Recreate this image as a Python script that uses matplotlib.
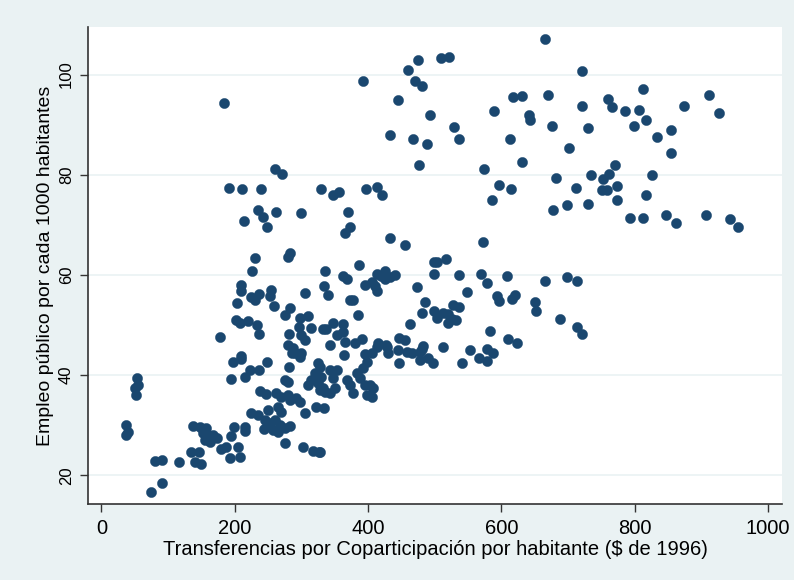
import matplotlib
matplotlib.use("Agg")
import matplotlib.pyplot as plt

# Transferencias por coparticipación por habitante ($ de 1996)
transfer = [
    183.6, 191, 211, 240, 260, 271, 330,
    666, 474.6, 459.6, 509.6, 521, 393, 471, 481, 445.5, 493, 588.6, 618, 631, 670.5,
    642, 643, 675.6, 528.6, 536.5, 433.5, 468, 489, 613.5, 477, 574, 631.5, 682.5,
    596.5, 614, 356.5, 348, 396.6, 414, 421,
    721, 812.5, 912, 760, 765.6, 721, 786, 806.5, 874.5, 926.5, 730.5, 798.5, 817.5,
    834, 854.5, 854, 701.5, 770, 761, 753, 735, 712.5, 750.6, 758, 774, 826.5, 817.5,
    774, 678, 699, 729.6, 793, 812.5, 847, 861.6, 907.5, 943, 955.5, 698, 714, 687.6,
    713, 721,
    586.5, 370.5, 373, 366, 433.5, 456, 572, 499.5, 503, 516.6, 386, 335.5, 363, 368,
    414, 426, 419.5, 426, 441, 433, 396, 405.6, 410.5, 414, 499.5, 536.5, 570, 609,
    579, 665, 334.5, 339.6, 473.5, 548, 594, 596.5, 615.5, 620.5, 650.5, 652, 373, 378,
    486, 528, 537, 481.5, 385.5, 499.5, 503, 513, 520.5, 525.6, 531.6, 520.5, 462.6,
    333, 348, 354, 363, 363, 365.5, 343.5, 337, 380.5, 391.5, 414.5, 426.6, 446.5, 456,
    483, 512.5, 582.5, 609.5, 623, 553.5, 578, 588,
    364.5, 395.5, 405.6, 413, 428, 445.5, 458, 465.6, 478, 480.5, 498, 490.5, 478, 447,
    430.5, 541.5, 567, 578, 327.8, 343, 353, 328, 348, 333, 343, 350.5, 368, 373, 378,
    388, 393, 398, 395.5, 403, 398, 408, 405.6, 383, 334, 328,
    235, 242.5, 261.6, 300, 214.5, 248, 231, 280, 283.5, 226, 209.5, 209.5, 225, 230,
    236, 254, 252.6, 305.5, 204, 258.6, 283, 275, 202.5, 207.6, 220, 234, 236, 178.5,
    298, 310, 296, 314, 300, 305, 281.5, 280, 287.5, 290, 300, 209,
    54, 50, 52.5, 55, 37.5, 40, 37.5, 197.5, 210, 222.6, 215, 236, 195, 249, 281.5,
    286, 298.5, 275, 280, 237.6, 247.5, 262.5, 270, 280, 282.6, 292.5, 297.6, 325, 320,
    315, 310, 330, 325, 327.5, 335, 322.5, 306, 225, 235, 250, 265, 270, 245, 252.6,
    260, 268, 244, 257.5, 265, 275, 282.6, 276, 302.5, 317.5, 326, 215, 215, 198.6,
    194, 137.5, 147.6, 157.5, 152.6, 160, 167.6, 162.6, 174, 155, 180, 187.5, 205,
    192.6, 207.6, 135, 146.5, 140, 150, 116, 80, 91, 91, 74,
]

# Empleo público por cada 1000 habitantes
empleo = [
    94.3, 77.4, 77.2, 77.2, 81.1, 80.1, 77.1,
    107.1, 103.0, 101.0, 103.3, 103.5, 98.8, 98.8, 97.8, 95.0, 91.9, 92.8, 95.6, 95.8, 96.0,
    91.9, 91.0, 89.7, 89.6, 87.2, 87.9, 87.1, 86.1, 87.2, 81.9, 81.1, 82.5, 79.4,
    78.0, 77.2, 76.6, 75.9, 77.2, 77.5, 75.9,
    100.7, 97.2, 96.0, 95.2, 93.5, 93.7, 92.7, 92.9, 93.7, 92.3, 89.3, 89.7, 90.9,
    87.5, 88.9, 84.3, 85.3, 82.0, 80.2, 79.2, 79.9, 77.4, 76.9, 76.9, 77.8, 80.0, 75.9,
    74.9, 73.0, 73.9, 74.1, 71.4, 71.4, 71.9, 70.3, 71.9, 71.2, 69.5, 59.7, 58.8, 51.2,
    49.6, 48.3,
    74.9, 72.5, 69.6, 68.4, 67.4, 65.9, 66.5, 62.6, 62.6, 63.2, 62.0, 60.9, 59.9, 59.3,
    60.3, 60.8, 59.8, 59.3, 60.1, 59.6, 58.0, 58.6, 57.8, 56.9, 60.3, 60.1, 60.3, 59.8,
    58.4, 58.8, 57.8, 56.0, 57.6, 56.6, 55.8, 54.8, 55.3, 56.0, 54.7, 52.9, 55.1, 55.1,
    54.6, 54.0, 53.7, 52.5, 52.0, 52.8, 51.5, 52.5, 52.3, 51.3, 51.1, 50.5, 50.3,
    49.3, 50.5, 48.0, 50.3, 48.7, 46.7, 46.0, 49.3, 46.5, 47.3, 46.4, 46.1, 47.4, 47.1,
    45.8, 45.6, 48.9, 47.3, 46.5, 45.1, 45.2, 44.5,
    44.0, 44.2, 44.4, 45.7, 45.7, 45.0, 44.7, 44.4, 44.7, 45.3, 42.4, 43.4, 43.0, 42.4,
    44.4, 42.4, 43.5, 42.8, 41.7, 41.0, 41.0, 39.7, 39.4, 37.4, 36.4, 37.4, 39.0, 38.0, 36.4,
    39.4, 41.4, 42.7, 38.0, 38.0, 36.0, 37.4, 35.7, 40.4, 33.4, 24.7,
    73.0, 71.6, 72.5, 72.4, 70.8, 69.6, 63.4, 63.6, 64.4, 60.8, 58.0, 56.8, 55.6, 55.0,
    56.3, 57.0, 55.8, 56.4, 54.4, 53.9, 53.5, 52.1, 51.0, 50.5, 50.9, 50.1, 48.2, 47.7,
    51.5, 51.9, 49.7, 49.5, 48.0, 47.0, 48.3, 46.0, 45.5, 44.4, 44.4, 43.9,
    39.4, 37.4, 36.0, 38.0, 30.0, 28.7, 28.0, 42.7, 43.2, 41.0, 39.7, 41.0, 39.2, 42.6, 41.6,
    44.4, 43.7, 39.0, 38.6, 36.8, 36.2, 36.4, 35.7, 36.0, 35.0, 35.4, 34.7, 42.4, 40.4,
    39.0, 38.0, 39.7, 38.4, 37.0, 36.7, 33.7, 32.4, 32.4, 32.0, 33.0, 33.7, 32.7, 31.0, 30.4,
    31.0, 30.0, 29.2, 29.0, 28.6, 29.4, 29.9, 26.5, 25.7, 24.9, 24.7, 29.7, 28.8, 29.6,
    27.8, 29.9, 29.7, 29.4, 28.4, 28.0, 28.0, 26.7, 27.4, 27.0, 25.2, 25.7, 25.7,
    23.4, 23.6, 24.6, 24.7, 22.6, 22.3, 22.6, 22.9, 23.1, 18.5, 16.7,
]

x_ticks = [0, 200, 400, 600, 800, 1000]
y_ticks = [20, 40, 60, 80, 100]
x_label = "Transferencias por Coparticipación por habitante ($ de 1996)"
y_label = "Empleo público por cada 1000 habitantes"

plt.rcParams['font.family'] = ['Liberation Sans', 'DejaVu Sans']

bg = '#EAF2F3'
fig = plt.figure(figsize=(7.94, 5.80), dpi=100, facecolor=bg)
ax = fig.add_axes([88/794, 76/580, 694/794, 477/580])
ax.set_facecolor('white')

ax.scatter(transfer, empleo, s=54, color='#1A476F', edgecolors='#1A476F',
           linewidths=0.3, zorder=3)

ax.set_xlim(-20, 1021)
ax.set_ylim(14.3, 109.5)
ax.set_xticks(x_ticks)
ax.set_yticks(y_ticks)
ax.yaxis.grid(True, color=bg, linewidth=1.2, zorder=0)
ax.xaxis.grid(False)
ax.set_axisbelow(True)

for s in ['top', 'right']:
    ax.spines[s].set_visible(False)
for s in ['left', 'bottom']:
    ax.spines[s].set_color('#333333')
    ax.spines[s].set_linewidth(1.2)

ax.tick_params(axis='x', length=5.5, width=1.0, color='#333333', labelsize=14.5,
               pad=5, labelcolor='black')
ax.tick_params(axis='y', length=6, width=1.0, color='#333333', labelsize=12,
               pad=4, labelcolor='black')
for lbl in ax.get_yticklabels():
    lbl.set_rotation(90)
    lbl.set_va('center')

ax.set_xlabel(x_label, fontsize=14.5, labelpad=2)
ax.set_ylabel(y_label, fontsize=14, labelpad=4)

fig.savefig('out.png', dpi=100, facecolor=bg)
